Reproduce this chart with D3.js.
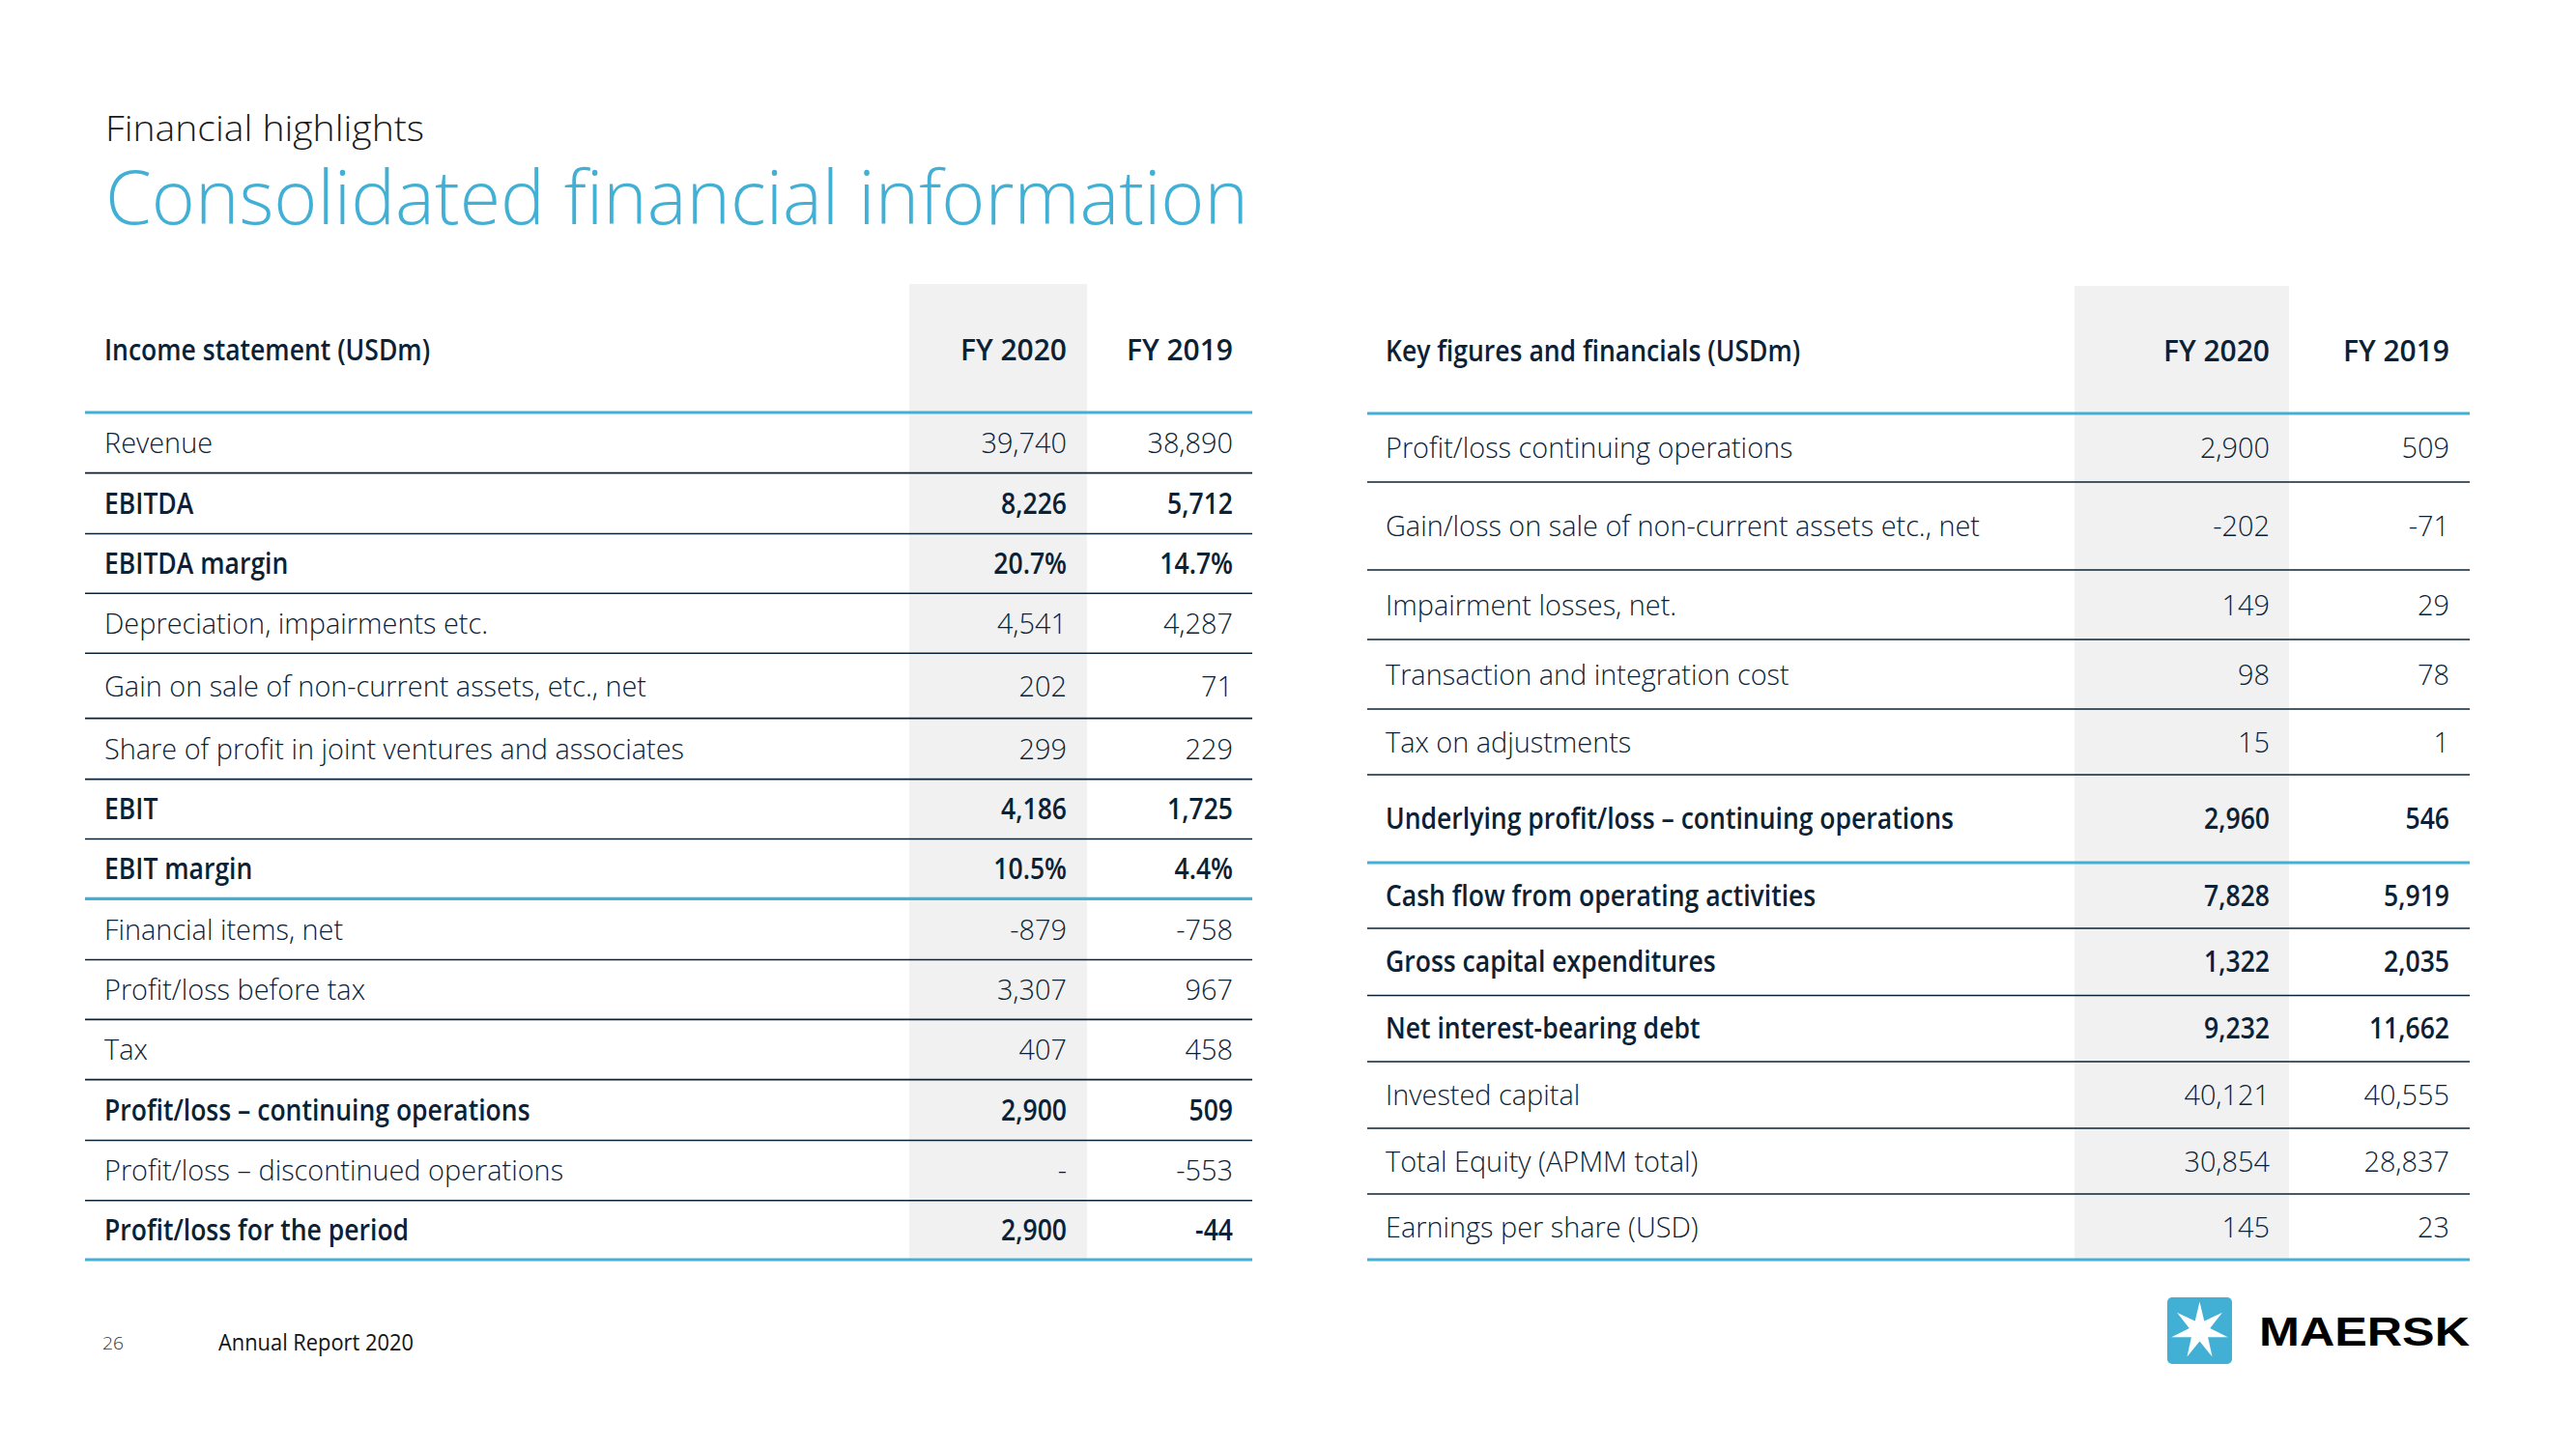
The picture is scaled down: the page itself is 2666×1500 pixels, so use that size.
<!DOCTYPE html>
<html>
<head>
<meta charset="utf-8">
<script src="https://cdn.jsdelivr.net/npm/d3@7"></script>
<style>
  html, body { margin: 0; padding: 0; background: #ffffff; }
  svg { display: block; }
</style>
</head>
<body>
<svg id="chart" width="2666" height="1500"></svg>
<script>
// ---------------- DATA ----------------
const pageKicker = "Financial highlights";
const pageTitle = "Consolidated financial information";
const periods = ["FY 2020", "FY 2019"];

const leftTitle = "Income statement (USDm)";
const leftLabels = [
  "Revenue",
  "EBITDA",
  "EBITDA margin",
  "Depreciation, impairments etc.",
  "Gain on sale of non-current assets, etc., net",
  "Share of profit in joint ventures and associates",
  "EBIT",
  "EBIT margin",
  "Financial items, net",
  "Profit/loss before tax",
  "Tax",
  "Profit/loss \u2013 continuing operations",
  "Profit/loss \u2013 discontinued operations",
  "Profit/loss for the period"
];
const leftFY2020 = [39740, 8226, 20.7, 4541, 202, 299, 4186, 10.5, -879, 3307, 407, 2900, null, 2900];
const leftFY2019 = [38890, 5712, 14.7, 4287, 71, 229, 1725, 4.4, -758, 967, 458, 509, -553, -44];
const leftUnits  = ["", "", "%", "", "", "", "", "%", "", "", "", "", "", ""];

const rightTitle = "Key figures and financials (USDm)";
const rightLabels = [
  "Profit/loss continuing operations",
  "Gain/loss on sale of non-current assets etc., net",
  "Impairment losses, net.",
  "Transaction and integration cost",
  "Tax on adjustments",
  "Underlying profit/loss \u2013 continuing operations",
  "Cash flow from operating activities",
  "Gross capital expenditures",
  "Net interest-bearing debt",
  "Invested capital",
  "Total Equity (APMM total)",
  "Earnings per share (USD)"
];
const rightFY2020 = [2900, -202, 149, 98, 15, 2960, 7828, 1322, 9232, 40121, 30854, 145];
const rightFY2019 = [509, -71, 29, 78, 1, 546, 5919, 2035, 11662, 40555, 28837, 23];
const rightUnits  = ["", "", "", "", "", "", "", "", "", "", "", ""];

const footerPage = "26";
const footerText = "Annual Report 2020";
const brandName = "MAERSK";

// ---------------- STYLE ----------------
const leftBoldRows = new Set(["EBITDA", "EBITDA margin", "EBIT", "EBIT margin",
  "Profit/loss \u2013 continuing operations", "Profit/loss for the period"]);
const leftBlueAfter = new Set(["EBIT margin"]);
const rightBoldRows = new Set(["Underlying profit/loss \u2013 continuing operations",
  "Cash flow from operating activities", "Gross capital expenditures", "Net interest-bearing debt"]);
const rightBlueAfter = new Set(["Underlying profit/loss \u2013 continuing operations"]);

const BLUE = "#42B0D5";
const NAVY = "#0B2236";
const SHADE = "#F1F1F1";
const FONT = "'Open Sans', 'Noto Sans', sans-serif";
const FS = 30;            // table font size
const CAP = 0.714;        // cap-height ratio

// row-height weights (layout, relative)
const leftLayout = {
  x0: 88, x1: 1296, shadeX0: 941, shadeX1: 1125, shadeTop: 294,
  headerBase: 373, bodyTop: 427, bodyBottom: 1304, labelX: 108,
  colRight: [1104, 1276], periodWidth: 110,
  weights: [62.6, 63, 61.7, 62, 67.4, 63.1, 61.9, 61.9, 63.1, 61.9, 62.3, 62.8, 62.3, 61.3]
};
const rightLayout = {
  x0: 1415, x1: 2556, shadeX0: 2147, shadeX1: 2369, shadeTop: 296,
  headerBase: 374, bodyTop: 428, bodyBottom: 1304, labelX: 1434,
  colRight: [2349, 2535], periodWidth: 110,
  weights: [71, 91, 72, 72, 68, 91, 68, 69.5, 68.5, 69, 68, 68]
};

const svg = d3.select("#chart");
const locale = d3.formatLocale({decimal: ".", thousands: ",", grouping: [3], currency: ["", ""], minus: "-"});
const fmtInt = locale.format(",");
function fmtVal(v, unit) {
  if (v === null || v === undefined) return "-";
  if (unit === "%") return locale.format(".1f")(v) + "%";
  return fmtInt(v);
}

function measure(text, size, weight) {
  const t = svg.append("text").attr("font-family", FONT).attr("font-size", size)
    .attr("font-weight", weight).text(text);
  const w = t.node().getComputedTextLength();
  t.remove();
  return w;
}
const regFactor = 600 / measure("Share of profit in joint ventures and associates", FS, 300);
const boldFactor = 588 / measure("Underlying profit/loss \u2013 continuing operations", FS, 600);

function squeeze(sel, factor) {
  sel.each(function() {
    const L = this.getComputedTextLength();
    d3.select(this).attr("textLength", L * factor).attr("lengthAdjust", "spacingAndGlyphs");
  });
}
function fitTo(sel, target) {
  sel.attr("textLength", target).attr("lengthAdjust", "spacingAndGlyphs");
}

// ---------------- TITLE ----------------
fitTo(svg.append("text").attr("x", 109).attr("y", 146)
  .attr("font-family", FONT).attr("font-size", 36).attr("font-weight", 300)
  .attr("fill", "#1a1a1a").text(pageKicker), 330);
fitTo(svg.append("text").attr("x", 109).attr("y", 232)
  .attr("font-family", FONT).attr("font-size", 77).attr("font-weight", 300)
  .attr("fill", BLUE).text(pageTitle), 1183);

// ---------------- TABLES ----------------
function drawTable(L, title, labels, v2020, v2019, units, boldSet, blueSet) {
  const g = svg.append("g");
  const rows = labels.map((lab, i) => ({label: lab, vals: [v2020[i], v2019[i]], unit: units[i], w: L.weights[i]}));
  let acc = 0;
  rows.forEach(r => { r.start = acc; acc += r.w; r.end = acc; });
  const y = d3.scaleLinear().domain([0, acc]).range([L.bodyTop, L.bodyBottom]);
  const x = d3.scaleOrdinal().domain(periods).range(L.colRight);

  g.append("rect").attr("x", L.shadeX0).attr("y", L.shadeTop)
    .attr("width", L.shadeX1 - L.shadeX0).attr("height", L.bodyBottom - L.shadeTop)
    .attr("fill", SHADE);

  const hdr = g.append("text").attr("x", L.labelX).attr("y", L.headerBase)
    .attr("font-family", FONT).attr("font-size", FS).attr("font-weight", 600)
    .attr("fill", NAVY).text(title);
  squeeze(hdr, boldFactor);
  const ph = g.selectAll("text.period").data(periods).join("text").attr("class", "period")
    .attr("x", d => x(d)).attr("y", L.headerBase).attr("text-anchor", "end")
    .attr("font-family", FONT).attr("font-size", FS).attr("font-weight", 600)
    .attr("fill", NAVY).text(d => d);
  fitTo(ph, L.periodWidth);

  g.selectAll("line.sep").data(rows).join("line").attr("class", "sep")
    .attr("x1", L.x0).attr("x2", L.x1)
    .attr("y1", d => y(d.end)).attr("y2", d => y(d.end))
    .attr("stroke", (d, i) => (blueSet.has(d.label) || i === rows.length - 1) ? BLUE : NAVY)
    .attr("stroke-width", (d, i) => (blueSet.has(d.label) || i === rows.length - 1) ? 3.2 : 1.6);
  g.append("line").attr("x1", L.x0).attr("x2", L.x1)
    .attr("y1", y(0)).attr("y2", y(0)).attr("stroke", BLUE).attr("stroke-width", 3.2);

  const base = d => (y(d.start) + y(d.end)) / 2 + FS * CAP / 2;

  const lab = g.selectAll("text.lab").data(rows).join("text").attr("class", "lab")
    .attr("x", L.labelX).attr("y", base)
    .attr("font-family", FONT).attr("font-size", FS)
    .attr("font-weight", d => boldSet.has(d.label) ? 600 : 300)
    .attr("fill", NAVY).text(d => d.label);
  lab.each(function(d) { squeeze(d3.select(this), boldSet.has(d.label) ? boldFactor : regFactor); });

  periods.forEach((p, pi) => {
    const vt = g.selectAll("text.v" + pi).data(rows).join("text").attr("class", "v" + pi)
      .attr("x", x(p)).attr("y", base).attr("text-anchor", "end")
      .attr("font-family", FONT).attr("font-size", FS)
      .attr("font-weight", d => boldSet.has(d.label) ? 600 : 300)
      .attr("fill", NAVY).text(d => fmtVal(d.vals[pi], d.unit));
    vt.each(function(d) { squeeze(d3.select(this), boldSet.has(d.label) ? boldFactor : regFactor); });
  });
}

drawTable(leftLayout, leftTitle, leftLabels, leftFY2020, leftFY2019, leftUnits, leftBoldRows, leftBlueAfter);
drawTable(rightLayout, rightTitle, rightLabels, rightFY2020, rightFY2019, rightUnits, rightBoldRows, rightBlueAfter);

// ---------------- FOOTER ----------------
fitTo(svg.append("text").attr("x", 106).attr("y", 1397)
  .attr("font-family", FONT).attr("font-size", 18).attr("font-weight", 300)
  .attr("fill", "#333").text(footerPage), 22);
fitTo(svg.append("text").attr("x", 226).attr("y", 1398)
  .attr("font-family", FONT).attr("font-size", 23).attr("font-weight", 400)
  .attr("fill", "#141414").text(footerText), 202);

// ---------------- LOGO ----------------
const logo = svg.append("g");
logo.append("rect").attr("x", 2243).attr("y", 1343).attr("width", 67).attr("height", 69)
  .attr("rx", 5).attr("fill", BLUE);
const cx = 2276.5, cy = 1377.5, R = 30, r = 11;
const starPts = d3.range(14).map(i => {
  const a = -Math.PI / 2 + i * Math.PI / 7;
  const rad = i % 2 === 0 ? R : r;
  return [cx + rad * Math.cos(a), cy + rad * Math.sin(a)];
});
logo.append("path").attr("d", d3.line()(starPts) + "Z").attr("fill", "#ffffff");
fitTo(logo.append("text").attr("x", 2338).attr("y", 1393)
  .attr("font-family", "'Liberation Sans', Arial, sans-serif").attr("font-size", 43)
  .attr("font-weight", 900).attr("fill", "#000").text(brandName), 218);
</script>
</body>
</html>
